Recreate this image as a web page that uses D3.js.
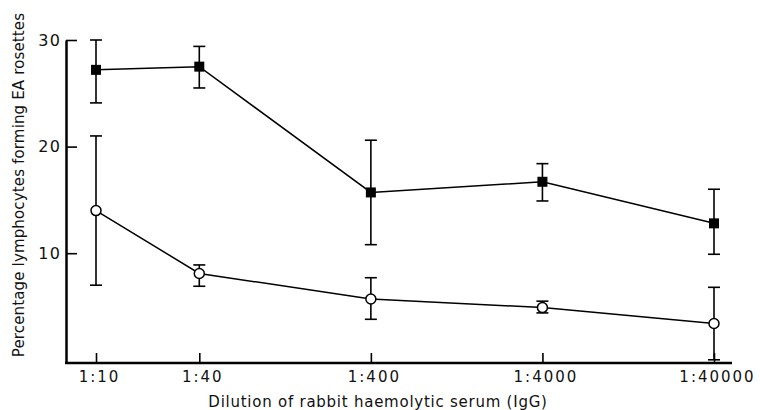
<!DOCTYPE html>
<html>
<head>
<meta charset="utf-8">
<script src="https://cdn.jsdelivr.net/npm/d3@7"></script>
<style>
  body { margin: 0; background: #fff; }
  svg { display: block; }
  svg text { font-family: "DejaVu Sans", sans-serif; }
</style>
</head>
<body>
<svg id="chart" width="760" height="410"></svg>
<script>
(function(){

  // dilutions (1:x) of rabbit haemolytic serum
  const dilutions = [10, 40, 400, 4000, 40000];
  const yTicks = [10, 20, 30];

  // filled squares
  const squareMean = [27.2, 27.5, 15.7, 16.7, 12.8];
  const squareHigh = [30.0, 29.4, 20.6, 18.4, 16.0];
  const squareLow  = [24.1, 25.5, 10.8, 14.9, 9.9];

  // open circles
  const circleMean = [14.0, 8.1, 5.7, 4.9, 3.4];
  const circleHigh = [21.0, 8.9, 7.7, 5.5, 6.8];
  const circleLow  = [7.0, 6.9, 3.8, 4.4, 0];

  const svg = d3.select("#chart");

  const left = 66, right = 732, bottom = 363, top = 40;

  const xScale = d3.scaleLog().domain([10, 40000]).range([96, 714]);
  const yScale = d3.scaleLinear().domain([-0.3, 30]).range([bottom, top]);

  // y axis, ticks point inward
  const yAxis = d3.axisLeft(yScale)
    .tickValues(yTicks)
    .tickSizeInner(-11)
    .tickSizeOuter(0)
    .tickPadding(4.5)
    .tickFormat(d3.format("d"));

  const gy = svg.append("g")
    .attr("transform", "translate(" + left + ",0)")
    .call(yAxis);
  gy.select(".domain").attr("stroke-width", 2.5);
  gy.selectAll(".tick line").attr("stroke-width", 1.6);
  gy.selectAll(".tick text")
    .style("font-size", "16px")
    .style("letter-spacing", "1.5px")
    .attr("fill", "#111");

  // x axis
  const xAxis = d3.axisBottom(xScale)
    .tickValues(dilutions)
    .tickSizeInner(-10)
    .tickSizeOuter(0)
    .tickPadding(8)
    .tickFormat(d => "1:" + d);

  const gx = svg.append("g")
    .attr("transform", "translate(0," + bottom + ")")
    .call(xAxis);
  gx.select(".domain").remove();
  gx.selectAll(".tick line").attr("stroke-width", 1.6);
  gx.selectAll(".tick text")
    .style("font-size", "15px")
    .style("letter-spacing", "2px")
    .attr("dx", 3)
    .attr("fill", "#111");

  svg.append("line")
    .attr("x1", left - 1).attr("x2", right)
    .attr("y1", bottom).attr("y2", bottom)
    .attr("stroke", "#000")
    .attr("stroke-width", 2.5);

  // axis titles
  svg.append("text")
    .attr("transform", "translate(24,185) rotate(-90)")
    .attr("text-anchor", "middle")
    .style("font-size", "15px")
    .style("letter-spacing", "0.15px")
    .attr("fill", "#111")
    .text("Percentage lymphocytes forming EA rosettes");

  svg.append("text")
    .attr("x", 378)
    .attr("y", 407)
    .attr("text-anchor", "middle")
    .style("font-size", "15px")
    .style("letter-spacing", "0.75px")
    .attr("fill", "#111")
    .text("Dilution of rabbit haemolytic serum (IgG)");

  const line = d3.line()
    .x(d => xScale(d.x))
    .y(d => yScale(d.y));

  function drawSeries(mean, high, low, marker) {
    const pts = dilutions.map((x, i) => ({x: x, y: mean[i], hi: high[i], lo: low[i]}));

    svg.append("path")
      .datum(pts)
      .attr("d", line)
      .attr("fill", "none")
      .attr("stroke", "#000")
      .attr("stroke-width", 1.5);

    const bars = svg.append("g").selectAll("g")
      .data(pts)
      .enter().append("g")
      .attr("stroke", "#000")
      .attr("stroke-width", 1.6);

    bars.append("line")
      .attr("x1", d => xScale(d.x)).attr("x2", d => xScale(d.x))
      .attr("y1", d => yScale(d.hi)).attr("y2", d => yScale(d.lo));
    bars.append("line")
      .attr("x1", d => xScale(d.x) - 6).attr("x2", d => xScale(d.x) + 6)
      .attr("y1", d => yScale(d.hi)).attr("y2", d => yScale(d.hi));
    bars.append("line")
      .attr("x1", d => xScale(d.x) - 6).attr("x2", d => xScale(d.x) + 6)
      .attr("y1", d => yScale(d.lo)).attr("y2", d => yScale(d.lo));

    if (marker === "square") {
      svg.append("g").selectAll("rect")
        .data(pts)
        .enter().append("rect")
        .attr("x", d => xScale(d.x) - 5)
        .attr("y", d => yScale(d.y) - 5)
        .attr("width", 10)
        .attr("height", 10)
        .attr("fill", "#000");
    } else {
      svg.append("g").selectAll("circle")
        .data(pts)
        .enter().append("circle")
        .attr("cx", d => xScale(d.x))
        .attr("cy", d => yScale(d.y))
        .attr("r", 5)
        .attr("fill", "#fff")
        .attr("stroke", "#000")
        .attr("stroke-width", 1.5);
    }
  }

  drawSeries(circleMean, circleHigh, circleLow, "circle");
  drawSeries(squareMean, squareHigh, squareLow, "square");

})();
</script>
</body>
</html>
